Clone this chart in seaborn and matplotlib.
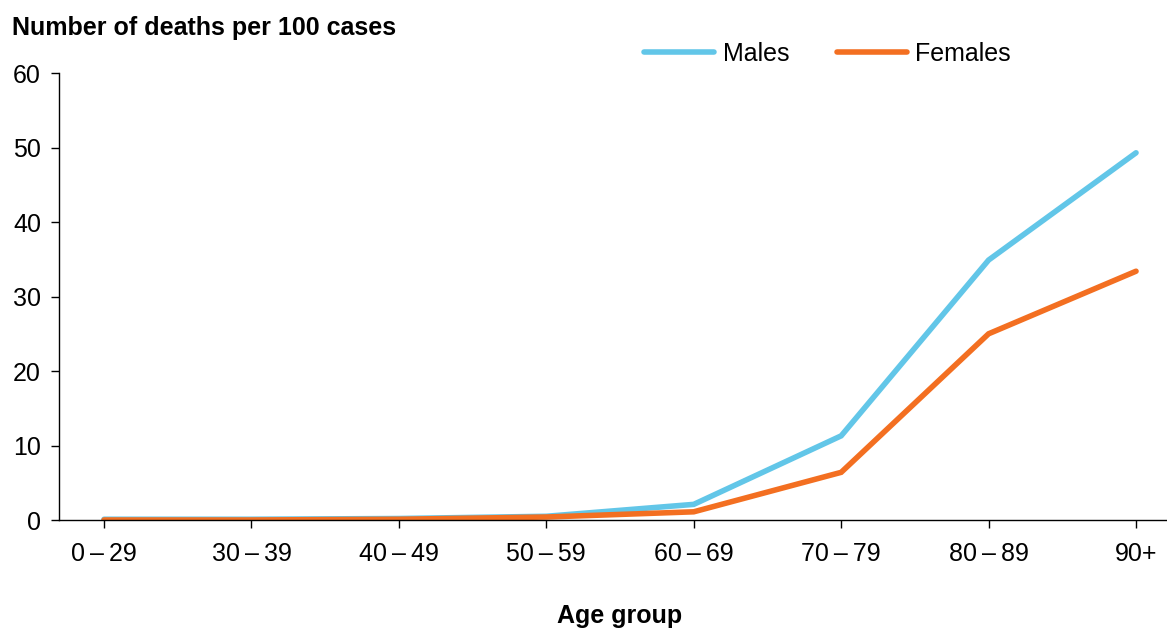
import pandas as pd
import numpy as np
import seaborn as sns
import matplotlib.pyplot as plt

# data
age_groups = ["0\u2009\u2013\u200929", "30\u2009\u2013\u200939", "40\u2009\u2013\u200949",
              "50\u2009\u2013\u200959", "60\u2009\u2013\u200969", "70\u2009\u2013\u200979",
              "80\u2009\u2013\u200989", "90+"]
males = [0.1, 0.1, 0.2, 0.5, 2.1, 11.3, 34.9, 49.3]
females = [0.0, 0.0, 0.1, 0.4, 1.1, 6.4, 25.0, 33.4]

df = pd.DataFrame({
    "pos": list(range(len(age_groups))) * 2,
    "rate": males + females,
    "sex": ["Males"] * len(males) + ["Females"] * len(females),
})

sns.set_style("ticks")
plt.rcParams['font.family'] = ['Liberation Sans', 'DejaVu Sans']
plt.rcParams['text.color'] = 'black'

fs = 18
fig = plt.figure(figsize=(11.67, 6.3), dpi=100)
ax = fig.add_axes([0.0506, 0.1746, 0.9494, 0.7094])

sns.lineplot(data=df, x="pos", y="rate", hue="sex",
             palette={"Males": "#62C6E8", "Females": "#F36F21"},
             linewidth=4.0, ax=ax, legend=False)
for ln in ax.lines:
    ln.set_solid_capstyle('round')
    ln.set_solid_joinstyle('miter')

ax.set_ylim(0, 60)
ax.set_xlim(-0.305, 7.21)
ax.set_yticks(range(0, 61, 10))
ax.set_xticks(range(len(age_groups)))
ax.set_xticklabels(age_groups)
ax.tick_params(axis='both', labelsize=fs, colors='black', length=6, width=1)
ax.tick_params(axis='x', pad=10)
ax.tick_params(axis='y', pad=7)
ax.set_xlabel("")
ax.set_ylabel("")
for s in ['top', 'right']:
    ax.spines[s].set_visible(False)
for s in ['left', 'bottom']:
    ax.spines[s].set_color('black')
    ax.spines[s].set_linewidth(1)

# legend
handles = [plt.Line2D([], [], color="#62C6E8", lw=4.0, solid_capstyle='round'),
           plt.Line2D([], [], color="#F36F21", lw=4.0, solid_capstyle='round')]
fig.legend(handles, ["Males", "Females"], loc='center', bbox_to_anchor=(0.709, 0.915),
           ncol=2, frameon=False, fontsize=fs, handlelength=2.8,
           handletextpad=0.35, columnspacing=1.9)

fig.text(0.010, 0.955, "Number of deaths per 100 cases", fontsize=fs,
         fontweight='bold', ha='left', va='center')
fig.text(0.531, 0.022, "Age group", fontsize=fs, fontweight='bold',
         ha='center', va='center')

fig.savefig("out.png", dpi=100)
